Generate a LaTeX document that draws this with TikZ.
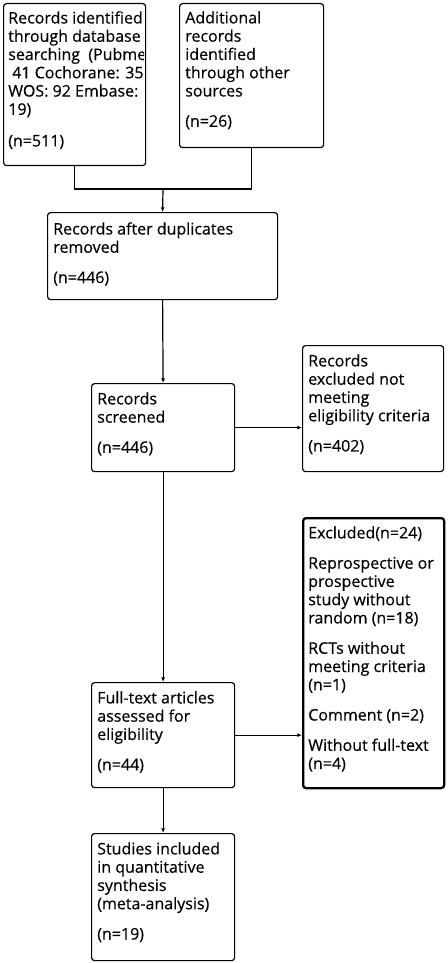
\documentclass[tikz,border=0pt]{standalone}
\usepackage{fontspec}
\setmainfont[FakeBold=0.35]{Open Sans}
\usetikzlibrary{arrows.meta}

\tikzset{
  box/.style={draw, rounded corners=2.2pt, line width=0.9pt, anchor=north west, inner sep=0pt},
  boldbox/.style={box, line width=1.7pt},
  txt/.style={anchor=north west, inner sep=0pt, align=left, font=\fontsize{12}{13.7}\selectfont},
  arr/.style={-{Latex[length=3.5pt,width=3pt]}, line width=0.9pt},
  link/.style={line width=0.9pt}
}

\begin{document}
\begin{tikzpicture}[x=0.75pt,y=0.75pt,yscale=-1,xscale=1]
\useasboundingbox (0,0) rectangle (447,963);

%Shape: Rectangle [identification]
\node[box, minimum width=106.5pt, minimum height=121.5pt] (ident) at (3,3) {};
\node[box, minimum width=108pt, minimum height=108pt] (other) at (179,3) {};
%Shape: Rectangle [screening]
\node[box, minimum width=172.5pt, minimum height=65.25pt] (dedup) at (47,212) {};
\node[box, minimum width=107.25pt, minimum height=66pt] (screened) at (91,383) {};
\node[box, minimum width=105.75pt, minimum height=94.5pt] (exclrec) at (302,345) {};
%Shape: Rectangle [eligibility]
\node[box, minimum width=107.25pt, minimum height=78.75pt] (fulltext) at (91,682) {};
\node[boldbox, minimum width=105.75pt, minimum height=202.5pt] (exclfull) at (302,517) {};
%Shape: Rectangle [included]
\node[box, minimum width=107.25pt, minimum height=95.25pt] (incl) at (91,833) {};

%Connectors
\coordinate (merge) at (163,189);
\draw[link] (ident.south) |- (merge);
\draw[link] (other.south) |- (merge);
\draw[arr] (merge) -- (dedup.north);
\draw[arr] (dedup.south) -- (screened.north);
\draw[arr] (screened.east) -- (screened.east -| exclrec.west);
\draw[arr] (screened.south) -- (fulltext.north);
\draw[arr] (fulltext.east) -- (fulltext.east -| exclfull.west);
\draw[arr] (fulltext.south) -- (incl.north);

% Text Node
\begin{scope}
\clip (3,3) rectangle (144,165);
\node[txt] (identtxt) at (8,11) {Records identified\\through database\\searching\ \ (Pubmed:\\\hspace{3pt}41 Cochorane: 359\\WOS: 92 Embase:\\19)\\[10pt](n=511)};
\end{scope}
% Text Node
\node[txt] (othertxt) at (185,11) {Additional\\records\\identified\\through other\\sources\\[9pt](n=26)};
% Text Node
\node[txt] (deduptxt) at (53,222) {Records after duplicates\\removed\\[9pt](n=446)};
% Text Node
\node[txt] (screenedtxt) at (97,392) {Records\\screened\\[9pt](n=446)};
% Text Node
\node[txt] (exclrectxt) at (308,354) {Records\\excluded not\\meeting\\eligibility criteria\\[9pt](n=402)};
% Text Node
\node[txt] (exclfulltxt) at (308,526) {Excluded(n=24)\\[9pt]Reprospective or\\prospective\\study without\\random (n=18)\\[9pt]RCTs without\\meeting criteria\\(n=1)\\[9pt]Comment (n=2)\\[9pt]Without full-text\\(n=4)};
% Text Node
\node[txt] (fulltexttxt) at (97,691) {Full-text articles\\assessed for\\eligibility\\[9pt](n=44)};
% Text Node
\node[txt] (incltxt) at (97,842) {Studies included\\in quantitative\\synthesis\\(meta-analysis)\\[9pt](n=19)};

\end{tikzpicture}
\end{document}
